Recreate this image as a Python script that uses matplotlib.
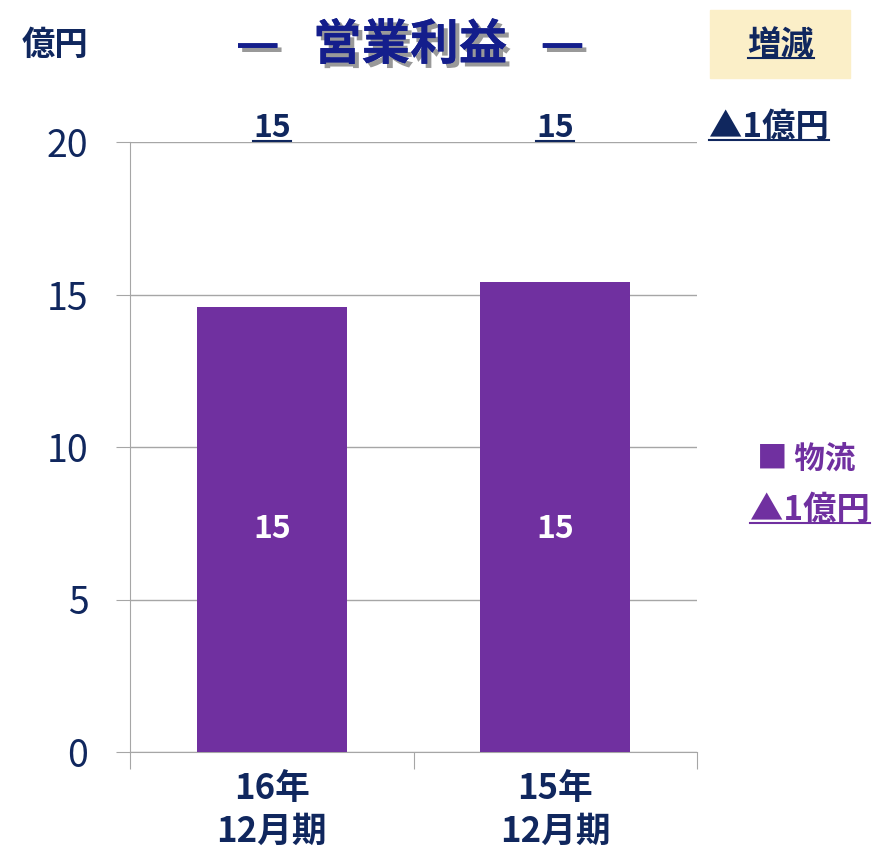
import numpy as np
import matplotlib
matplotlib.use("Agg")
from matplotlib import pyplot as plt
from matplotlib.lines import Line2D
import matplotlib.patheffects as pe

#data
categories=['16年\n12月期','15年\n12月期']
values=[14.6,15.4]
bar_labels=['15','15']
top_labels=['15','15']
change_label='▲1億円'
series_name='物流'
yticks=[0,5,10,15,20]

NAVY='#10275E'
PURPLE='#7030A0'
GRID='#A6A6A6'

plt.rcParams['font.family']=['Noto Sans CJK JP','DejaVu Sans']

fig=plt.figure(figsize=(8.81,8.56),dpi=100)
ax=fig.add_axes([130/881,1-752/856,567/881,610/856])

x=np.arange(len(categories))
ax.bar(x,values,width=0.53,color=PURPLE,zorder=3)
ax.set_xlim(-0.5,len(categories)-0.5)
ax.set_ylim(0,20)
ax.set_yticks(yticks)
ax.yaxis.grid(True,color=GRID,linewidth=1,zorder=0)
for s in ['top','right']:
	ax.spines[s].set_visible(False)
ax.spines['left'].set_color(GRID)
ax.spines['bottom'].set_color(GRID)
ax.tick_params(axis='y',length=10,color=GRID,labelsize=27,labelcolor=NAVY,pad=20)
ax.set_xticks(np.arange(-0.5,len(categories),1.0))
ax.set_xticklabels([])
ax.tick_params(axis='x',length=12,color=GRID)
for i,c in enumerate(categories):
	ax.text(x[i],-0.62,c,ha='center',va='top',fontsize=25,fontweight='bold',color=NAVY,linespacing=1.3)

#labels inside bars
for i,v in enumerate(values):
	ax.text(x[i],7.3,bar_labels[i],ha='center',va='center',fontsize=23,fontweight='bold',color='white',zorder=4)

texts=[]
#top values
for i,t in enumerate(top_labels):
	texts.append(ax.text(x[i],20.15,t,ha='center',va='baseline',fontsize=23,fontweight='bold',color=NAVY))
texts.append(fig.text(769/881,1-127/856,change_label,ha='center',va='center',fontsize=24,fontweight='bold',color=NAVY))

#header
fig.text(55/881,1-45/856,'億円',ha='center',va='center',fontsize=24,fontweight='bold',color=NAVY)
fig.text(410/881,1-45/856,'—   営業利益   —',ha='center',va='center',fontsize=35,fontweight='bold',color='#141E8C',
	path_effects=[pe.withSimplePatchShadow(offset=(3,-3),shadow_rgbFace='#555555',alpha=0.6),pe.Normal()])
fig.patches.append(plt.Rectangle((710/881,1-78/856),140/881,68/856,transform=fig.transFigure,color='#FBEFC8',zorder=0))
texts.append(fig.text(781/881,1-45/856,'増減',ha='center',va='center',fontsize=24,fontweight='bold',color=NAVY))

#legend
fig.text(806/881,1-460/856,'■ '+series_name,ha='center',va='center',fontsize=22,fontweight='bold',color=PURPLE)
texts.append(fig.text(810/881,1-510/856,change_label,ha='center',va='center',fontsize=24,fontweight='bold',color=PURPLE))

#underlines
fig.canvas.draw()
r=fig.canvas.get_renderer()
inv=fig.transFigure.inverted()
for t in texts:
	bb=t.get_window_extent(r)
	(x0,y0),(x1,y1)=inv.transform([[bb.x0,bb.y0],[bb.x1,bb.y1]])
	fig.add_artist(Line2D([x0,x1],[y0+0.004,y0+0.004],transform=fig.transFigure,color=t.get_color(),linewidth=1.5))

fig.savefig('out.png',dpi=100)
